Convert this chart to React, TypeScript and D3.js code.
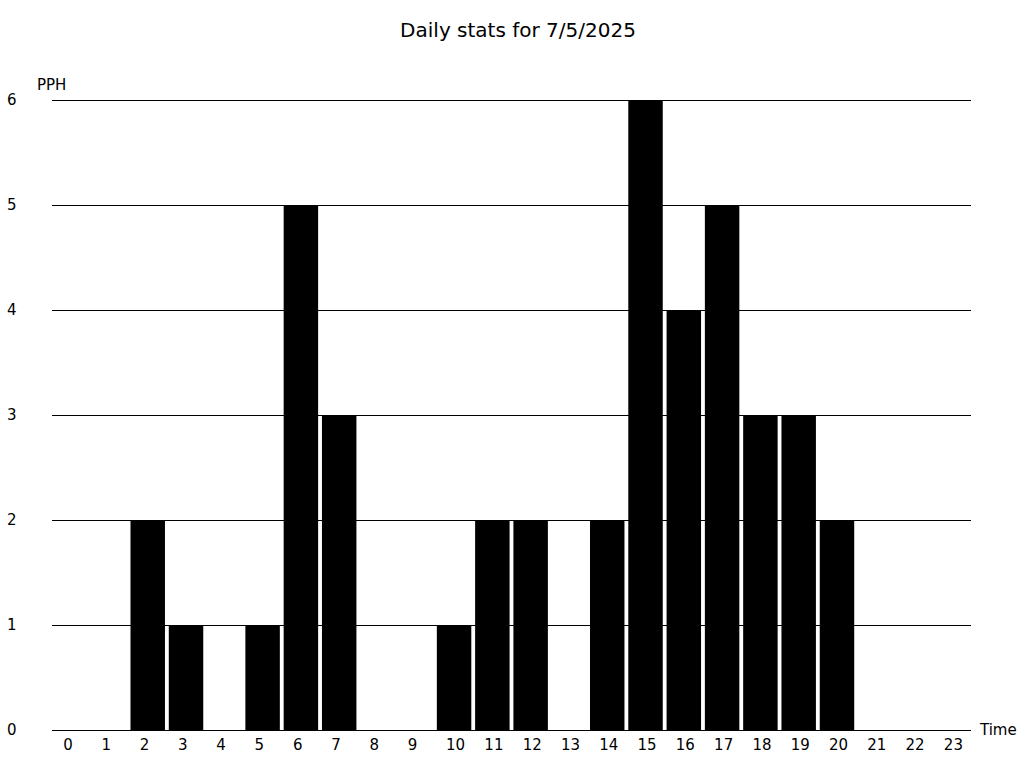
import React from "react";
import * as d3 from "d3";

const hours: string[] = Array.from({ length: 24 }, (_, i) => String(i));
const pph: number[] = [0, 0, 2, 1, 0, 1, 5, 3, 0, 0, 1, 2, 2, 0, 2, 6, 4, 5, 3, 3, 2, 0, 0, 0];
const yTicks: number[] = [0, 1, 2, 3, 4, 5, 6];
const title = "Daily stats for 7/5/2025";

export default function App() {
  const W = 1024, H = 768;
  const left = 52, right = 971, top = 100, bottom = 730;
  const x = d3.scaleBand<string>().domain(hours).range([left, right]).paddingInner(0.1).paddingOuter(0.05);
  const y = d3.scaleLinear().domain([0, 6]).range([bottom, top]);
  const font = "DejaVu Sans, sans-serif";
  return (
    <svg width={W} height={H} style={{ position: "absolute", left: 0, top: 0 }} fontFamily={font}>
      <rect width={W} height={H} fill="#fff" />
      <text x={518} y={37} textAnchor="middle" fontSize={20} fill="#000">{title}</text>
      {yTicks.map((t) => (
        <g key={t}>
          <line x1={left} x2={right} y1={y(t) + 0.5} y2={y(t) + 0.5} stroke="#000" strokeWidth={1} />
          <text x={7} y={y(t)} dominantBaseline="central" fontSize={15}>{t}</text>
        </g>
      ))}
      {pph.map((v, i) => (
        <rect key={i} x={x(hours[i])!} y={y(v)} width={x.bandwidth()} height={bottom - y(v)} fill="#000" />
      ))}
      {hours.map((h) => (
        <text key={h} x={x(h)! + x.bandwidth() / 2 - 8} y={745} dominantBaseline="central" fontSize={15}>{h}</text>
      ))}
      <text x={37} y={90} fontSize={15}>PPH</text>
      <text x={980} y={730} dominantBaseline="central" fontSize={15}>Time</text>
    </svg>
  );
}
